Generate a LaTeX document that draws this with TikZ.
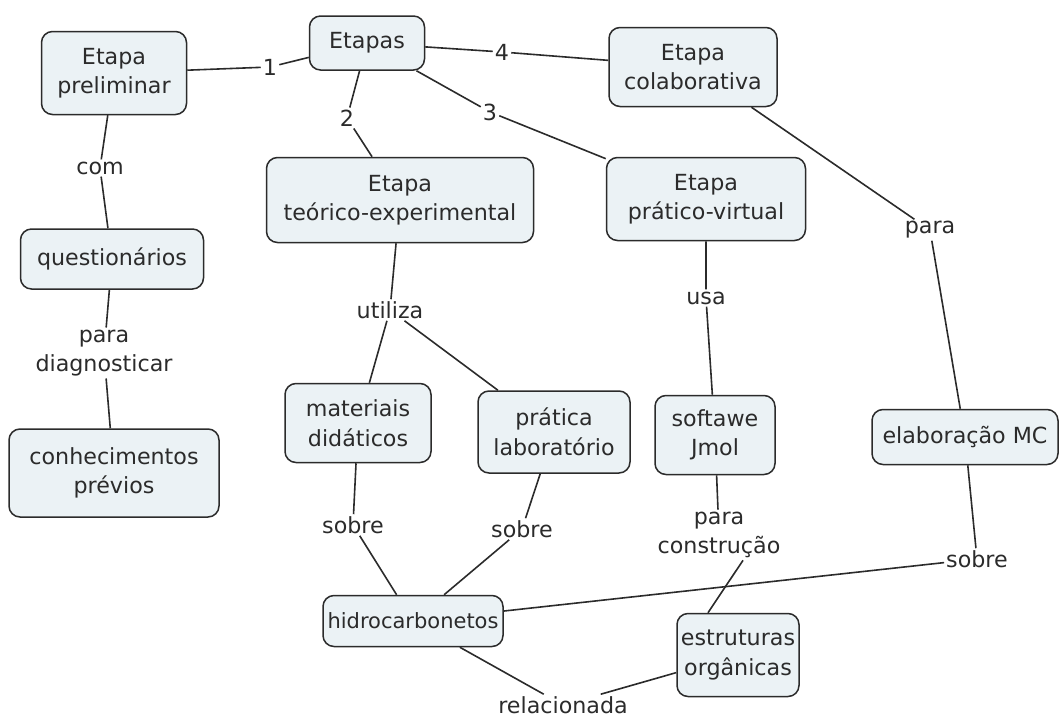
\documentclass[tikz,border=0pt]{standalone}
\usepackage{fontspec}
\setmainfont{DejaVu Sans}
\begin{document}
\begin{tikzpicture}[x=1pt,y=-1pt,
  every node/.style={font=\fontsize{22.2}{29.5}\selectfont, text=ink},
  concept/.style n args={2}{draw=ink, line width=1.5pt, fill=boxfill,
    rounded corners=11pt, align=center, inner sep=0pt,
    minimum width=#1pt, minimum height=#2pt},
  phrase/.style={align=center, inner sep=2pt},
  link/.style={draw=ink, line width=1.6pt}]
\definecolor{ink}{HTML}{2B2B2B}
\definecolor{boxfill}{HTML}{EBF2F5}
\useasboundingbox (0,0) rectangle (1060,720);

% concepts
\node[concept={145}{83}] (pre)   at (114,73)  {Etapa\\preliminar};
\node[concept={115}{54}] (etap)  at (367,43)  {Etapas};
\node[concept={168}{79}] (colab) at (693,67)  {Etapa\\colaborativa};
\node[concept={199}{83}] (pratv) at (706,199) {Etapa\\prático-virtual};
\node[concept={267}{85}] (teor)  at (400,200) {Etapa\\teórico-experimental};
\node[concept={183}{60}] (quest) at (112,259) {questionários};
\node[concept={210}{88}] (conh)  at (114,473) {conhecimentos\\prévios};
\node[concept={146}{79}] (mat)   at (358,423) {materiais\\didáticos};
\node[concept={152}{82}] (prat)  at (554,432) {prática\\laboratório};
\node[concept={120}{79}] (soft)  at (715,435) {softawe\\Jmol};
\node[concept={186}{55}] (elab)  at (965,437) {elaboração MC};
\node[concept={180}{51}, font=\fontsize{21}{26}\selectfont] (hidro) at (413,621) {hidrocarbonetos};
\node[concept={122}{83}] (estr)  at (738,655) {estruturas\\orgânicas};

% linking phrases
\node[phrase] (l1)    at (270,67)  {1};
\node[phrase] (l2)    at (347,118) {2};
\node[phrase] (l3)    at (490,112) {3};
\node[phrase] (l4)    at (502,52)  {4};
\node[phrase] (lcom)  at (100,168) {com};
\node[phrase] (ldiag) at (104,353) {para\\diagnosticar};
\node[phrase] (lutil) at (390,310) {utiliza};
\node[phrase] (lusa)  at (706,298) {usa};
\node[phrase] (lpara) at (930,230) {para};
\node[phrase] (lsobA) at (353,525) {sobre};
\node[phrase] (lsobB) at (522,529) {sobre};
\node[phrase] (lcons) at (719,535) {para\\construção};
\node[phrase] (lsobC) at (977,559) {sobre};
\node[phrase] (lrel)  at (563,705) {relacionada};

% connectors
\draw[link] (pre) -- (l1) -- (etap);
\draw[link] (etap) -- (l2) -- (teor);
\draw[link] (etap) -- (l3) -- (pratv);
\draw[link] (etap) -- (l4) -- (colab);
\draw[link] (pre) -- (lcom) -- (quest);
\draw[link] (quest) -- (ldiag) -- (conh);
\draw[link] (teor) -- (lutil) -- (mat);
\draw[link] (lutil) -- (prat);
\draw[link] (pratv) -- (lusa) -- (soft);
\draw[link] (colab) -- (lpara) -- (elab);
\draw[link] (mat) -- (lsobA) -- (hidro);
\draw[link] (prat) -- (lsobB) -- (hidro);
\draw[link] (soft) -- (lcons);
\draw[link] ([xshift=24pt]lcons.south) -- ([xshift=-30pt]estr.north);
\draw[link] (elab) -- (lsobC) -- (hidro);
\draw[link] (hidro) -- (lrel) -- (estr);
\end{tikzpicture}
\end{document}
